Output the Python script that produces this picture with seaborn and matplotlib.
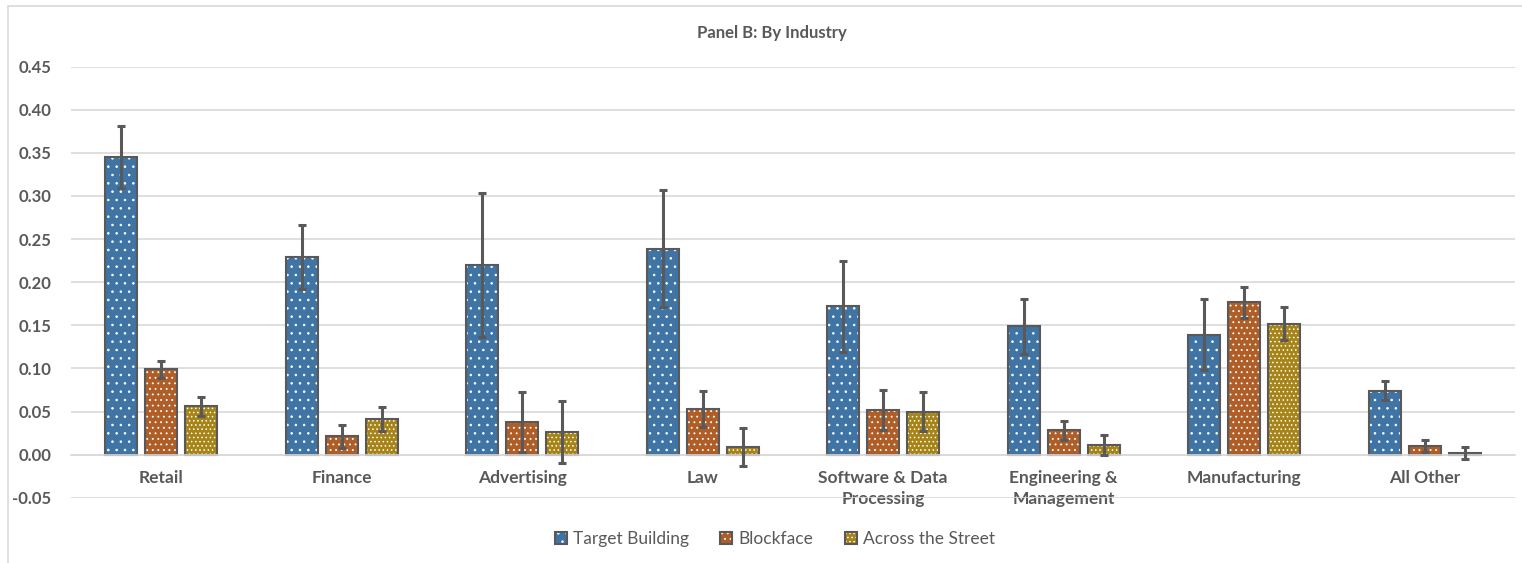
import numpy as np
import pandas as pd
import matplotlib
matplotlib.use("Agg")
import matplotlib.pyplot as plt
from matplotlib.colors import to_rgba
from matplotlib.patches import Rectangle
import seaborn as sns

# adatok
industries = ["Retail", "Finance", "Advertising", "Law", "Software & Data\nProcessing",
              "Engineering &\nManagement", "Manufacturing", "All Other"]
locations = ["Target Building", "Blockface", "Across the Street"]

target_vals = [0.345, 0.229, 0.220, 0.239, 0.172, 0.149, 0.139, 0.074]
target_err = [0.036, 0.037, 0.084, 0.068, 0.053, 0.032, 0.041, 0.011]
block_vals = [0.099, 0.021, 0.038, 0.053, 0.052, 0.028, 0.177, 0.010]
block_err = [0.010, 0.0135, 0.035, 0.021, 0.023, 0.011, 0.018, 0.007]
street_vals = [0.056, 0.041, 0.026, 0.009, 0.050, 0.011, 0.152, 0.002]
street_err = [0.011, 0.014, 0.036, 0.022, 0.023, 0.012, 0.019, 0.007]

colors = ["#2E75B6", "#C55A11", "#BF9000"]
hatches = ["..", "...", "...."]
gray = "#595959"

df = pd.DataFrame({
    "industry": industries * 3,
    "location": np.repeat(locations, len(industries)),
    "value": target_vals + block_vals + street_vals,
})
errs = [target_err, block_err, street_err]

sns.set_style("white")
plt.rcParams["font.family"] = ["Lato", "DejaVu Sans"]
plt.rcParams["hatch.linewidth"] = 0.6

fig = plt.figure(figsize=(15.22, 5.63), dpi=100)
ax = fig.add_axes([71 / 1522, 1 - 497.7 / 563, (1515 - 71) / 1522, (497.7 - 66.7) / 563])

sns.barplot(data=df, x="industry", y="value", hue="location", order=industries,
            hue_order=locations, palette=colors, width=0.665, gap=0.2,
            edgecolor=gray, linewidth=1.5, errorbar=None, legend=False, ax=ax)

for cont, h, e in zip(ax.containers, hatches, errs):
    xs, ys = [], []
    for bar in cont:
        bar.set_hatch(h)
        bar._hatch_color = to_rgba("white")  # pöttyök fehéren
        xs.append(bar.get_x() + bar.get_width() / 2)
        ys.append(bar.get_height())
    ax.errorbar(xs, ys, yerr=e, fmt="none", ecolor=gray, elinewidth=2.2,
                capsize=3, capthick=2.2, zorder=5)

ax.set_ylim(-0.05, 0.45)
ax.set_yticks(np.arange(-0.05, 0.451, 0.05))
ax.yaxis.set_major_formatter(matplotlib.ticker.FormatStrFormatter("%.2f"))
ax.set_xlim(-0.5, len(industries) - 0.5)
ax.grid(axis="y", color="#D9D9D9", linewidth=1.2)
ax.set_axisbelow(True)
for s in ["top", "right", "left"]:
    ax.spines[s].set_visible(False)
ax.spines["bottom"].set_position(("data", 0))
ax.spines["bottom"].set_color("#D9D9D9")
ax.spines["bottom"].set_linewidth(1.2)
ax.tick_params(axis="both", length=0, colors=gray)
ax.tick_params(axis="x", pad=11, labelsize=12.5)
ax.tick_params(axis="y", pad=14, labelsize=12)
for lbl in ax.get_xticklabels() + ax.get_yticklabels():
    lbl.set_fontweight("bold")
for lbl in ax.get_xticklabels():
    lbl.set_linespacing(1.4)
    if "\n" in lbl.get_text():
        # a kétsoros feliratok eltakarják a -0.05 rácsvonalat
        lbl.set_bbox(dict(facecolor="white", edgecolor="none", pad=3))
ax.set_xlabel("")
ax.set_ylabel("")

fig.text(0.507, 1 - 33 / 563, "Panel B: By Industry", ha="center", va="center",
         fontsize=12, fontweight="bold", color=gray)

handles = [cont[0] for cont in ax.containers]
fig.legend(handles, locations, loc="center", bbox_to_anchor=(0.509, 1 - 539 / 563),
           ncol=3, frameon=False, fontsize=12.5, labelcolor=gray, handlelength=0.7,
           handleheight=0.7, handletextpad=0.35, columnspacing=1.8)

# külső keret (jobb és alsó széle kilóg a képből)
fig.add_artist(Rectangle((8 / 1522, -0.05), 1.2, 1.05 - 6 / 563,
                         transform=fig.transFigure, fill=False,
                         edgecolor="#D9D9D9", linewidth=1.2))

fig.savefig("out.png", dpi=100)
